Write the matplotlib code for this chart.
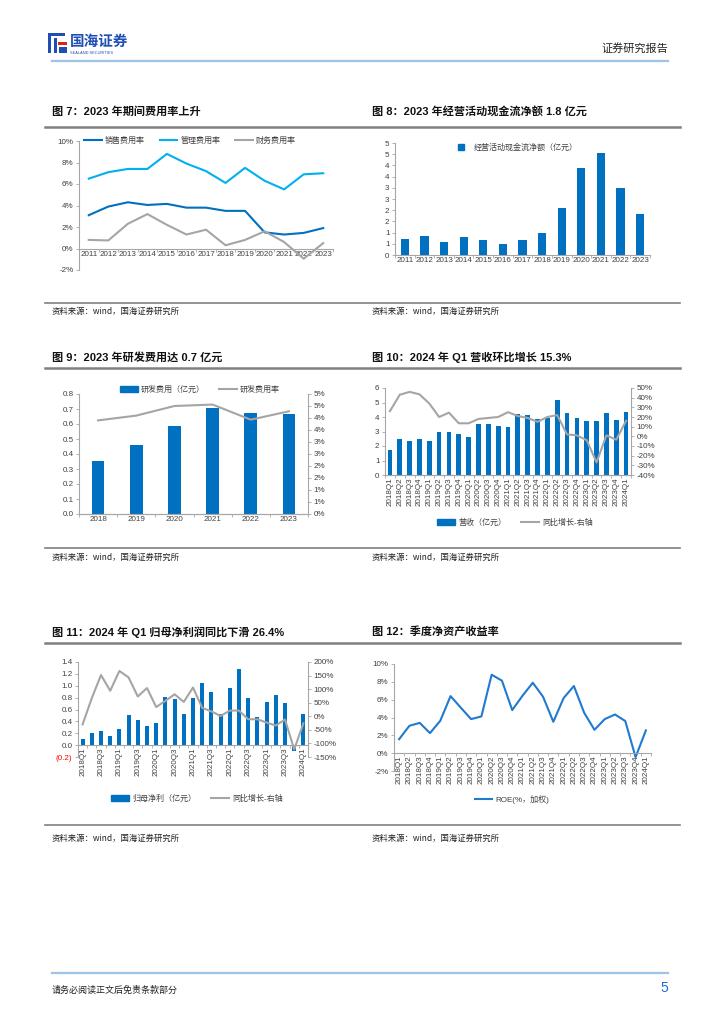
import matplotlib
matplotlib.use('Agg')
import matplotlib.pyplot as plt
import numpy as np
from matplotlib.ticker import FuncFormatter, FixedLocator
from matplotlib.patches import Rectangle, Patch
from matplotlib.lines import Line2D

plt.rcParams['font.family'] = ['Liberation Sans', 'Noto Sans CJK SC']
plt.rcParams['axes.unicode_minus'] = False

# ---- data ----
years = ['2011', '2012', '2013', '2014', '2015', '2016', '2017', '2018', '2019', '2020', '2021', '2022', '2023']
sales_rate = [3.1, 3.9, 4.3, 4.05, 4.15, 3.8, 3.8, 3.5, 3.5, 1.5, 1.3, 1.45, 1.9]
admin_rate = [6.5, 7.1, 7.4, 7.4, 8.8, 7.9, 7.2, 6.1, 7.5, 6.3, 5.5, 6.9, 7.0]
fin_rate = [0.8, 0.75, 2.3, 3.2, 2.2, 1.3, 1.75, 0.3, 0.8, 1.6, 0.6, -0.95, 0.5]

ocf = [0.70, 0.85, 0.58, 0.80, 0.67, 0.47, 0.67, 0.98, 2.09, 3.87, 4.54, 3.00, 1.81]

rd_years = ['2018', '2019', '2020', '2021', '2022', '2023']
rd_exp = [0.355, 0.46, 0.59, 0.71, 0.675, 0.67]
rd_rate = [3.9, 4.1, 4.5, 4.56, 3.93, 4.28]

quarters = ['2018Q1', '2018Q2', '2018Q3', '2018Q4', '2019Q1', '2019Q2', '2019Q3', '2019Q4',
            '2020Q1', '2020Q2', '2020Q3', '2020Q4', '2021Q1', '2021Q2', '2021Q3', '2021Q4',
            '2022Q1', '2022Q2', '2022Q3', '2022Q4', '2023Q1', '2023Q2', '2023Q3', '2023Q4', '2024Q1']
revenue = [1.73, 2.49, 2.35, 2.49, 2.33, 2.97, 2.95, 2.83, 2.63, 3.53, 3.53, 3.39, 3.30,
           4.22, 4.15, 3.87, 3.96, 5.14, 4.26, 3.94, 3.73, 3.73, 4.29, 3.80, 4.36]
rev_yoy = [26, 43, 46, 43.5, 34, 20, 24.5, 13.5, 13.5, 18, 19, 20, 25,
           21, 19, 15, 20, 22, 2, 1, -4, -27, 1, -3.5, 16]

net_profit = [0.10, 0.20, 0.24, 0.15, 0.27, 0.51, 0.42, 0.33, 0.37, 0.81, 0.78, 0.52, 0.79,
              1.05, 0.90, 0.52, 0.96, 1.28, 0.80, 0.47, 0.73, 0.84, 0.71, -0.10, 0.52]
np_yoy = [-30, 67, 152, 94, 167, 143, 73, 104, 34, 57, 81, 53, 106,
          31, 18, 1, 21, 21, -11, -11, -23, -34, -12, -122, -26]

roe = [1.57, 3.07, 3.4, 2.25, 3.63, 6.4, 5.1, 3.82, 4.12, 8.8, 8.13, 4.83, 6.44,
       7.9, 6.33, 3.52, 6.18, 7.53, 4.53, 2.62, 3.82, 4.34, 3.6, -0.45, 2.55]

BLUE = '#0070C0'
LBLUE = '#00B0F0'
GRAY = '#A5A5A5'
AXC = '#A6A6A6'
TXT = '#404040'
W, H = 724, 1024
TICK_FS = 5.8

fig = plt.figure(figsize=(W / 100, H / 100), dpi=100)


def px_axes(l, t, r, b):
    return fig.add_axes([l / W, 1 - b / H, (r - l) / W, (b - t) / H])


def fx(x):
    return x / W


def fy(y):
    return 1 - y / H


def hline(y, x1, x2, color, lw):
    fig.add_artist(Line2D([fx(x1), fx(x2)], [fy(y), fy(y)], color=color, lw=lw))


def rect(x, y, w, h, color):
    fig.add_artist(Rectangle((fx(x), fy(y + h)), w / W, h / H, color=color, transform=fig.transFigure, lw=0))


def excel_pct(v, pos):
    return '%d%%' % int(np.floor(v + 0.5 + 1e-9))


def excel_int(v, pos):
    return '%d' % int(np.floor(v + 0.5 + 1e-9))


def style(ax, left=True, right=False, zero=None):
    for s in ['top', 'right', 'left', 'bottom']:
        ax.spines[s].set_visible(False)
    if left:
        ax.spines['left'].set_visible(True)
        ax.spines['left'].set_color(AXC)
        ax.spines['left'].set_linewidth(0.8)
    if right:
        ax.spines['right'].set_visible(True)
        ax.spines['right'].set_color(AXC)
        ax.spines['right'].set_linewidth(0.8)
    ax.spines['bottom'].set_visible(True)
    ax.spines['bottom'].set_color(AXC)
    ax.spines['bottom'].set_linewidth(0.8)
    if zero is not None:
        ax.spines['bottom'].set_position(('data', zero))
    ax.tick_params(axis='both', labelsize=TICK_FS, colors=AXC, labelcolor=TXT, length=2.5, width=0.6, pad=1.5)
    ax.patch.set_alpha(0)


def cat_axis(ax, n, labels, rotation=0, step=1):
    ax.set_xlim(-0.5, n - 0.5)
    ax.xaxis.set_major_locator(FixedLocator(np.arange(0, n, step)))
    ax.set_xticklabels(labels[::step], rotation=rotation, fontsize=TICK_FS)
    ax.xaxis.set_minor_locator(FixedLocator(np.arange(-0.5, n, 1)))
    ax.tick_params(axis='x', which='major', length=0)
    ax.tick_params(axis='x', which='minor', length=2.5, width=0.6, colors=AXC)


def legend_at(ax, handles, labels, x, y, ncol):
    ax.legend(handles, labels, loc='center', bbox_to_anchor=(fx(x), fy(y)), bbox_transform=fig.transFigure,
              ncol=ncol, frameon=False, fontsize=TICK_FS, handlelength=2.2, handletextpad=0.4,
              columnspacing=1.8, borderaxespad=0, labelcolor=TXT)


# ---- header / footer ----
rect(48, 33, 17, 3, '#1F4FB4')
rect(48, 33, 3, 20, '#1F4FB4')
rect(54, 38, 3, 15, '#1F4FB4')
rect(58, 42, 9, 3, '#E0201B')
rect(59, 47, 8, 6, '#1F4FB4')
fig.text(fx(70), fy(41), '国海证券', fontsize=10.5, fontweight='bold', color='#1F4FB4', va='center',
         family=['Noto Sans CJK SC'])
fig.text(fx(70), fy(52.5), 'SEALAND SECURITIES', fontsize=2.8, color='#1F4FB4', va='center')
fig.text(fx(668), fy(48), '证券研究报告', fontsize=8, color='#222222', ha='right', va='center',
         family=['Noto Sans CJK SC'])
hline(61, 52, 668, '#9DC3E6', 1.6)
hline(973, 52, 668, '#9DC3E6', 1.6)
fig.text(fx(52), fy(990), '请务必阅读正文后免责条款部分', fontsize=6.5, color='#222222', va='center',
         family=['Noto Sans CJK SC'])
fig.text(fx(668), fy(988), '5', fontsize=10, color='#1F6FD0', ha='right', va='center')

# ---- section titles, rules, sources ----
titles = [
    (52, 111, '图 7：2023 年期间费用率上升'),
    (372, 111, '图 8：2023 年经营活动现金流净额 1.8 亿元'),
    (52, 357, '图 9：2023 年研发费用达 0.7 亿元'),
    (372, 357, '图 10：2024 年 Q1 营收环比增长 15.3%'),
    (52, 632, '图 11：2024 年 Q1 归母净利润同比下滑 26.4%'),
    (372, 632, '图 12：季度净资产收益率'),
]
for x, y, t in titles:
    fig.text(fx(x), fy(y), t, fontsize=8, fontweight='bold', color='#111111', va='center')
for y in [127, 368, 643]:
    hline(y, 45, 680, '#808080', 1.8)
for y in [303, 548, 825]:
    hline(y, 45, 680, '#808080', 1.2)
for y in [311, 557, 838]:
    for x in [52, 372]:
        fig.text(fx(x), fy(y), '资料来源：wind，国海证券研究所', fontsize=6, color='#222222', va='center',
                 family=['Noto Sans CJK SC'])

# ---- fig 7 ----
ax = px_axes(79, 141, 333, 270)
x = np.arange(len(years))
ax.plot(x, sales_rate, color=BLUE, lw=1.5)
ax.plot(x, admin_rate, color=LBLUE, lw=1.5)
ax.plot(x, fin_rate, color=GRAY, lw=1.5)
ax.set_ylim(-2, 10)
ax.set_yticks(np.arange(-2, 11, 2))
ax.yaxis.set_major_formatter(FuncFormatter(lambda v, p: '%d%%' % round(v)))
style(ax, zero=0)
cat_axis(ax, len(years), years)
legend_at(ax, [Line2D([], [], color=c, lw=1.5) for c in [BLUE, LBLUE, GRAY]],
          ['销售费用率', '管理费用率', '财务费用率'], 190, 141, 3)

# ---- fig 8 ----
ax = px_axes(395, 143, 650, 255)
x = np.arange(len(years))
ax.bar(x, ocf, width=0.42, color=BLUE)
ax.set_ylim(0, 5)
ax.set_yticks(np.arange(0, 5.01, 0.5))
ax.yaxis.set_major_formatter(FuncFormatter(excel_int))
style(ax)
cat_axis(ax, len(years), years)
legend_at(ax, [Line2D([], [], marker='s', color=BLUE, lw=0, markersize=4)],
          ['经营活动现金流净额（亿元）'], 515, 148, 1)

# ---- fig 9 ----
ax = px_axes(79, 394, 308, 514)
x = np.arange(len(rd_years))
ax.bar(x, rd_exp, width=0.33, color=BLUE)
ax.set_ylim(0, 0.8)
ax.set_yticks(np.arange(0, 0.81, 0.1))
ax.yaxis.set_major_formatter(FuncFormatter(lambda v, p: '%.1f' % v))
style(ax)
cat_axis(ax, len(rd_years), rd_years)
ax2 = ax.twinx()
ax2.plot(x, rd_rate, color=GRAY, lw=1.5)
ax2.set_ylim(0, 5)
ax2.set_yticks(np.arange(0, 5.01, 0.5))
ax2.yaxis.set_major_formatter(FuncFormatter(excel_pct))
style(ax2, left=False, right=True)
legend_at(ax2, [Patch(color=BLUE), Line2D([], [], color=GRAY, lw=1.5)],
          ['研发费用（亿元）', '研发费用率'], 200, 390, 2)

# ---- fig 10 ----
ax = px_axes(385, 388, 631, 475)
x = np.arange(len(quarters))
ax.bar(x, revenue, width=0.48, color=BLUE)
ax.set_ylim(0, 6)
ax.set_yticks(np.arange(0, 7, 1))
style(ax)
cat_axis(ax, len(quarters), quarters, rotation=90)
ax2 = ax.twinx()
ax2.plot(x, rev_yoy, color=GRAY, lw=1.5)
ax2.set_ylim(-40, 50)
ax2.set_yticks(np.arange(-40, 51, 10))
ax2.yaxis.set_major_formatter(FuncFormatter(lambda v, p: '%d%%' % round(v)))
style(ax2, left=False, right=True)
legend_at(ax2, [Patch(color=BLUE), Line2D([], [], color=GRAY, lw=1.5)],
          ['营收（亿元）', '同比增长-右轴'], 515, 523, 2)

# ---- fig 11 ----
ax = px_axes(78, 662, 308, 757)
x = np.arange(len(quarters))
ax.bar(x, net_profit, width=0.45, color=BLUE)
ax.set_ylim(-0.2, 1.4)
ax.set_yticks(np.arange(-0.2, 1.41, 0.2))
ax.yaxis.set_major_formatter(FuncFormatter(lambda v, p: '(%.1f)' % abs(v) if v < -1e-9 else '%.1f' % abs(v)))
style(ax, zero=0)
cat_axis(ax, len(quarters), quarters, rotation=90, step=2)
ax.yaxis.get_major_ticks()[0].label1.set_color('#FF0000')
ax2 = ax.twinx()
ax2.plot(x, np_yoy, color=GRAY, lw=1.5)
ax2.set_ylim(-150, 200)
ax2.set_yticks(np.arange(-150, 201, 50))
ax2.yaxis.set_major_formatter(FuncFormatter(lambda v, p: '%d%%' % round(v)))
style(ax2, left=False, right=True)
ax2.spines['bottom'].set_visible(False)
legend_at(ax2, [Patch(color=BLUE), Line2D([], [], color=GRAY, lw=1.5)],
          ['归母净利（亿元）', '同比增长-右轴'], 197, 799, 2)

# ---- fig 12 ----
ax = px_axes(394, 664, 651, 771)
x = np.arange(len(quarters))
ax.plot(x, roe, color='#1F7AD0', lw=1.5)
ax.set_ylim(-2, 10)
ax.set_yticks(np.arange(-2, 11, 2))
ax.yaxis.set_major_formatter(FuncFormatter(lambda v, p: '%d%%' % round(v)))
style(ax, zero=0)
cat_axis(ax, len(quarters), quarters, rotation=90)
legend_at(ax, [Line2D([], [], color='#1F7AD0', lw=1.5)], ['ROE(%，加权)'], 512, 799, 1)

fig.savefig('out.png', dpi=100, facecolor='white')
